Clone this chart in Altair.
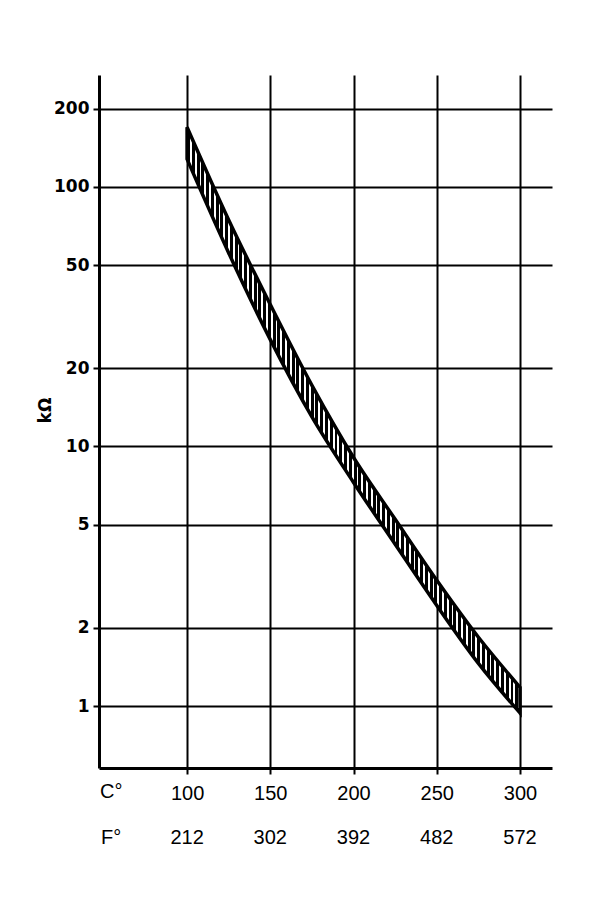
import altair as alt
import pandas as pd

# --- data ---
temps_c = [100, 125, 150, 175, 200, 225, 250, 275, 300]
upper_k = [170, 74.6, 35.2, 17.2, 9.07, 5.24, 3.05, 1.84, 1.18]
lower_k = [128, 55.7, 25.8, 13.0, 7.27, 4.20, 2.44, 1.46, 0.94]

tick_c = [100, 150, 200, 250, 300]
tick_f = ["212", "302", "392", "482", "572"]
tick_k = [1, 2, 5, 10, 20, 50, 100, 200]

band = pd.DataFrame({"c": temps_c, "hi": upper_k, "lo": lower_k})
frow = pd.DataFrame({"c": tick_c, "f": tick_f})

FONT = "Liberation Sans"
BOLD = "DejaVu Sans"

# vertical hatching as a striped gradient
n = 70
stops = []
for i in range(n):
    a = i / n
    b = (i + 0.62) / n
    c = (i + 1) / n
    stops += [
        {"offset": a, "color": "black"},
        {"offset": b, "color": "black"},
        {"offset": b, "color": "white"},
        {"offset": c, "color": "white"},
    ]
hatch = {"gradient": "linear", "x1": 0, "y1": 0, "x2": 1, "y2": 0, "stops": stops}

xscale = alt.Scale(domain=[47.1, 319.2], nice=False, zero=False)
yscale = alt.Scale(type="log", domain=[0.577, 270], nice=False, zero=False)

xaxis = alt.Axis(
    values=tick_c, title=None, grid=True, gridColor="black", gridWidth=2,
    domainColor="black", domainWidth=3, tickColor="black", tickWidth=2,
    tickSize=6, labelFont=FONT, labelFontSize=20, labelColor="black",
    labelPadding=9, labelBaseline="top",
)
yaxis = alt.Axis(
    values=tick_k, title="kΩ", grid=True, gridColor="black", gridWidth=2,
    domainColor="black", domainWidth=3, tickColor="black", tickWidth=2,
    tickSize=6, labelFont=BOLD, labelFontSize=17, labelFontWeight="bold",
    labelColor="black", labelPadding=4, format="d",
    titleFont=BOLD, titleFontSize=17, titleFontWeight="bold", titleColor="black",
    titleAngle=270, titleX=-54, titleY=335, titleBaseline="middle", titleAlign="center",
)

area = alt.Chart(band).mark_area(
    fill=hatch, stroke="black", strokeWidth=3.5, interpolate="monotone"
).encode(
    x=alt.X("c:Q", scale=xscale, axis=xaxis),
    y=alt.Y("hi:Q", scale=yscale, axis=yaxis),
    y2="lo:Q",
)

ftext = alt.Chart(frow).mark_text(
    font=FONT, fontSize=20, color="black", baseline="middle", align="center"
).encode(
    x=alt.X("c:Q", scale=xscale),
    y=alt.value(762.5),
    text="f:N",
)

cunit = alt.Chart(pd.DataFrame({"u": ["C°"]})).mark_text(
    font=FONT, fontSize=20, color="black", baseline="middle", align="left"
).encode(x=alt.value(1), y=alt.value(717), text="u:N")

funit = alt.Chart(pd.DataFrame({"u": ["F°"]})).mark_text(
    font=FONT, fontSize=20, color="black", baseline="middle", align="left"
).encode(x=alt.value(2), y=alt.value(762.5), text="u:N")

chart = alt.layer(area, ftext, cunit, funit).properties(
    width=453, height=693,
    padding={"left": 91, "top": 67, "right": 30, "bottom": 140},
    autosize="none", background="white",
).configure_view(stroke=None)

chart.save("out.html", embed_options={"renderer": "svg", "actions": False})
